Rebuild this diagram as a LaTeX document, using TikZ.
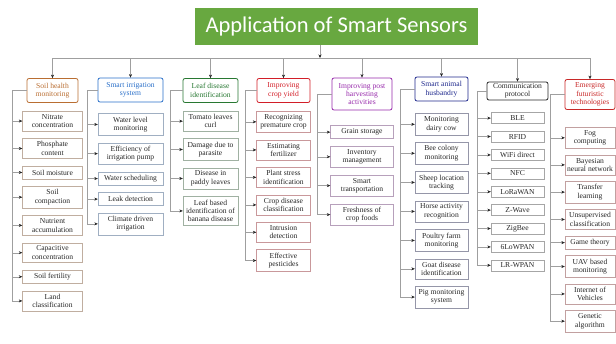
\documentclass[tikz,border=0pt]{standalone}
\usepackage{fontspec}
\setmainfont{Liberation Serif}
\newfontfamily\titlefont{Carlito}
\usetikzlibrary{positioning,arrows.meta}

\definecolor{soilc}{RGB}{185,110,50}
\definecolor{waterc}{RGB}{40,110,200}
\definecolor{leafc}{RGB}{40,120,50}
\definecolor{yieldc}{RGB}{210,30,40}
\definecolor{postc}{RGB}{150,40,170}
\definecolor{animalc}{RGB}{30,40,140}
\definecolor{commc}{RGB}{40,40,40}
\definecolor{futc}{RGB}{200,40,40}
\definecolor{titlec}{RGB}{104,168,64}

\begin{document}
\begin{tikzpicture}[x=1pt,y=-1pt,node distance=7pt,
    >={Stealth[length=3.5pt,width=3pt,color=black!85]},
    every node/.style={font=\fontsize{7.6}{8.4}\selectfont,align=center},
    title/.style={fill=titlec,text=white,font=\titlefont\fontsize{22.5}{26}\selectfont,
      minimum width=283pt,minimum height=37pt},
    head/.style={draw=#1,text=#1,thick,rounded corners=2pt,inner sep=1.5pt,
      minimum height=24pt},
    leaf/.style={draw=#1,inner xsep=1pt,inner ysep=3.2pt,minimum height=13pt,text=black!85},
    soil/.style={leaf=soilc!40!gray!60,minimum width=60pt},
    water/.style={leaf=waterc!35!gray!60,minimum width=65pt},
    leafd/.style={leaf=leafc!35!gray!60,minimum width=55pt},
    yield/.style={leaf=yieldc!45!gray!60,minimum width=54pt},
    post/.style={leaf=postc!35!gray!60,minimum width=63pt},
    animal/.style={leaf=animalc!25!gray!70,minimum width=53pt},
    comm/.style={leaf=gray!70,minimum width=53pt,minimum height=11pt,inner ysep=1.5pt},
    fut/.style={leaf=futc!35!gray!60,minimum width=50pt},
    link/.style={draw=gray!75}]
\useasboundingbox (0,0) rectangle (616,343);

\node[title] (app) at (336.5,26.5) {Application of Smart Sensors};

% column heads
\node[head=soilc,minimum width=51pt] (h_1) at (52.5,90.5) {Soil health\\monitoring};
\node[head=waterc,minimum width=65pt] (h_2) at (130.5,90) {Smart irrigation\\system};
\node[head=leafc,minimum width=55pt] (h_3) at (210.5,90.5) {Leaf disease\\identification};
\node[head=yieldc,minimum width=53pt] (h_4) at (283.5,90.5) {Improving\\crop yield};
\node[head=postc,minimum width=60pt,minimum height=32pt] (h_5) at (362,94) {Improving post\\harvesting\\activities};
\node[head=animalc,minimum width=53pt] (h_6) at (441.5,89) {Smart animal\\husbandry};
\node[head=commc,minimum width=61pt,minimum height=18pt] (h_7) at (517.5,91) {Communication\\protocol};
\node[head=futc,minimum width=50pt,minimum height=30pt] (h_8) at (590,94.5) {Emerging\\futuristic\\technologies};

% soil health
\node[soil,below=8pt of h_1] (s_1) {Nitrate\\concentration};
\node[soil,below=of s_1] (s_2) {Phosphate\\content};
\node[soil,below=of s_2] (s_3) {Soil moisture};
\node[soil,below=of s_3] (s_4) {Soil\\compaction};
\node[soil,below=of s_4] (s_5) {Nutrient\\accumulation};
\node[soil,below=of s_5] (s_6) {Capacitive\\concentration};
\node[soil,below=of s_6] (s_7) {Soil fertility};
\node[soil,below=of s_7] (s_8) {Land\\classification};

% irrigation
\node[water,below=11pt of h_2] (w_1) {Water level\\monitoring};
\node[water,below=of w_1] (w_2) {Efficiency of\\irrigation pump};
\node[water,below=of w_2] (w_3) {Water scheduling};
\node[water,below=of w_3] (w_4) {Leak detection};
\node[water,below=of w_4] (w_5) {Climate driven\\irrigation};

% leaf disease
\node[leafd,below=8pt of h_3] (l_1) {Tomato leaves\\curl};
\node[leafd,below=of l_1] (l_2) {Damage due to\\parasite};
\node[leafd,below=of l_2] (l_3) {Disease in\\paddy leaves};
\node[leafd,below=of l_3] (l_4) {Leaf based\\identification of\\banana disease};

% crop yield
\node[yield,below=8pt of h_4] (y_1) {Recognizing\\premature crop};
\node[yield,below=of y_1] (y_2) {Estimating\\fertilizer};
\node[yield,below=of y_2] (y_3) {Plant stress\\identification};
\node[yield,below=of y_3] (y_4) {Crop disease\\classification};
\node[yield,below=of y_4] (y_5) {Intrusion\\detection};
\node[yield,below=of y_5] (y_6) {Effective\\pesticides};

% post harvesting
\node[post,below=15pt of h_5] (p_1) {Grain storage};
\node[post,below=of p_1] (p_2) {Inventory\\management};
\node[post,below=of p_2] (p_3) {Smart\\transportation};
\node[post,below=of p_3] (p_4) {Freshness of\\crop foods};

% animal husbandry
\node[animal,below=12pt of h_6] (a_1) {Monitoring\\dairy cow};
\node[animal,below=of a_1] (a_2) {Bee colony\\monitoring};
\node[animal,below=of a_2] (a_3) {Sheep location\\tracking};
\node[animal,below=of a_3] (a_4) {Horse activity\\recognition};
\node[animal,below=of a_4] (a_5) {Poultry farm\\monitoring};
\node[animal,below=of a_5] (a_6) {Goat disease\\identification};
\node[animal,below=of a_6] (a_7) {Pig monitoring\\system};

% protocols
\node[comm,below=12pt of h_7] (c_1) {BLE};
\node[comm,below=of c_1] (c_2) {RFID};
\node[comm,below=of c_2] (c_3) {WiFi direct};
\node[comm,below=of c_3] (c_4) {NFC};
\node[comm,below=of c_4] (c_5) {LoRaWAN};
\node[comm,below=of c_5] (c_6) {Z-Wave};
\node[comm,below=of c_6] (c_7) {ZigBee};
\node[comm,below=of c_7] (c_8) {6LoWPAN};
\node[comm,below=of c_8] (c_9) {LR-WPAN};

% futuristic, packed a little tighter
\node[fut,below=17pt of h_8] (e_1) {Fog\\computing};
\node[fut,below=6pt of e_1] (e_2) {Bayesian\\neural network};
\node[fut,below=6pt of e_2] (e_3) {Transfer\\learning};
\node[fut,below=6pt of e_3] (e_4) {Unsupervised\\classification};
\node[fut,below=6pt of e_4] (e_5) {Game theory};
\node[fut,below=6pt of e_5] (e_6) {UAV based\\monitoring};
\node[fut,below=6pt of e_6] (e_7) {Internet of\\Vehicles};
\node[fut,below=6pt of e_7] (e_8) {Genetic\\algorithm};

% bus and trunks
\coordinate (bus) at (0,58);
\coordinate (tip) at (320,58);
\draw[link,->] (app.south -| tip) -- (tip);
\draw[link] (bus -| h_1) -- (bus -| h_8);
\foreach \k in {1,...,8}
  \draw[link,->] (bus -| h_\k) -- (h_\k);

\coordinate (t_1) at (12,0);
\coordinate (t_2) at (87,0);
\coordinate (t_3) at (170,0);
\coordinate (t_4) at (245,0);
\coordinate (t_5) at (317,0);
\coordinate (t_6) at (400,0);
\coordinate (t_7) at (477,0);
\coordinate (t_8) at (550,0);

\foreach \col/\pre/\num in {1/s/8,2/w/5,3/l/4,4/y/6,5/p/4,6/a/7,7/c/9,8/e/8} {
  \draw[link] (h_\col.west) -| (t_\col |- \pre_\num);
  \foreach \i in {1,...,\num}
    \draw[link,->] (t_\col |- \pre_\i) -- (\pre_\i);
}
\end{tikzpicture}
\end{document}
